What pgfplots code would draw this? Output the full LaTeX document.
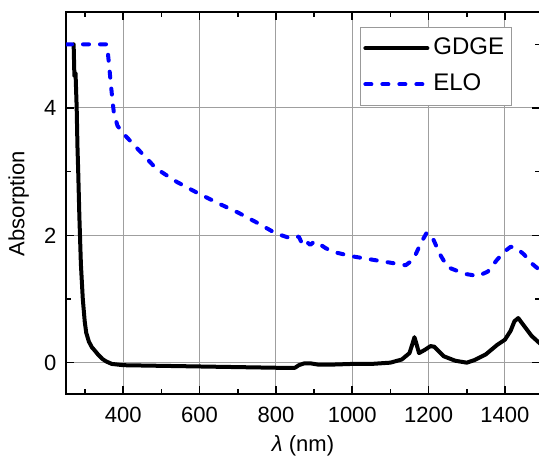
\documentclass[border=0pt]{standalone}
\usepackage{fontspec}
\setmainfont{Liberation Sans}
\usepackage{pgfplots}
\pgfplotsset{compat=1.18}

\begin{document}
\fontsize{11}{13}\selectfont
\begin{tikzpicture}
\begin{axis}[
  scale only axis,
  width=237pt, height=191pt,
  xmin=250, xmax=1492,
  ymin=-0.5, ymax=5.5,
  xtick={400,600,...,1400},
  ytick={0,2,4},
  minor xtick={300,500,...,1500},
  minor ytick={1,3,5},
  tick align=inside,
  major tick length=4pt,
  minor tick length=2.5pt,
  xtick pos=both, ytick pos=both,
  grid=major,
  major grid style={line width=0.5pt, draw=gray!75},
  axis line style={line width=1pt},
  every tick/.style={line width=0.8pt, black},
  /pgf/number format/assume math mode=true,
  /pgf/number format/1000 sep={},
  ticklabel style={font=\fontsize{11}{13}\selectfont},
  xticklabel style={yshift=-2.5pt},
  yticklabel style={xshift=-1pt},
  xlabel={\textit{λ} (nm)},
  ylabel={Absorption},
  label style={font=\fontsize{11}{13}\selectfont},
  xlabel style={yshift=1pt},
  legend style={at={(0.94,0.963)}, anchor=north east, draw=gray!80,
    line width=0.5pt, font=\fontsize{12}{14}\selectfont,
    row sep=4pt, inner xsep=1.5pt, inner ysep=3.5pt},
  legend cell align=left,
  legend image code/.code={\draw[#1] (0pt,0pt) -- (31pt,0pt);},
]
\addplot[black, line width=2pt, line join=round, line cap=round] coordinates {
  (270,5.0) (272,4.5) (275,4.55) (278,4.0) (280,3.4) (282,3.0) (285,2.3)
  (289,1.55) (294,1.0) (299,0.65) (303,0.47) (310,0.33) (318,0.24) (324,0.2)
  (335,0.12) (345,0.06) (355,0.02) (370,-0.02) (400,-0.04) (500,-0.05)
  (600,-0.06) (700,-0.07) (800,-0.08) (850,-0.08) (860,-0.04) (875,-0.01)
  (890,-0.01) (910,-0.03) (950,-0.03) (1000,-0.02) (1050,-0.02) (1100,0.0)
  (1130,0.05) (1150,0.15) (1158,0.3) (1163,0.4) (1168,0.3) (1175,0.15)
  (1190,0.2) (1205,0.26) (1215,0.25) (1240,0.1) (1270,0.03) (1300,0.0)
  (1320,0.04) (1350,0.13) (1380,0.28) (1400,0.36) (1415,0.5) (1425,0.65)
  (1435,0.7) (1450,0.58) (1470,0.42) (1492,0.3)
};
\addlegendentry{GDGE\hspace{6pt}}
\addplot[blue, line width=2pt, dash pattern=on 3pt off 5.5pt, line cap=round, line join=round] coordinates {
  (250,5.0) (300,5.0) (356,5.0) (360,4.85) (364,4.6) (368,4.35) (372,4.1)
  (376,3.9) (385,3.72) (400,3.6) (425,3.44) (450,3.28) (486,3.05) (540,2.84)
  (590,2.68) (650,2.5) (700,2.36) (750,2.2) (800,2.03) (840,1.95) (860,1.98)
  (870,1.85) (880,1.9) (890,1.85) (900,1.9) (910,1.88) (930,1.8) (950,1.74)
  (1000,1.67) (1050,1.62) (1100,1.57) (1140,1.53) (1160,1.62) (1180,1.88)
  (1195,2.04) (1210,1.97) (1230,1.7) (1250,1.5) (1280,1.43) (1300,1.39)
  (1330,1.36) (1355,1.43) (1380,1.62) (1400,1.75) (1415,1.82) (1430,1.8)
  (1450,1.7) (1470,1.56) (1492,1.45)
};
\addlegendentry{ELO}
\end{axis}
\pgfresetboundingbox
\useasboundingbox ([xshift=-33pt,yshift=-31pt]current axis.south west)
  rectangle ([xshift=-0.5pt,yshift=6.25pt]current axis.north east);
\end{tikzpicture}
\end{document}
